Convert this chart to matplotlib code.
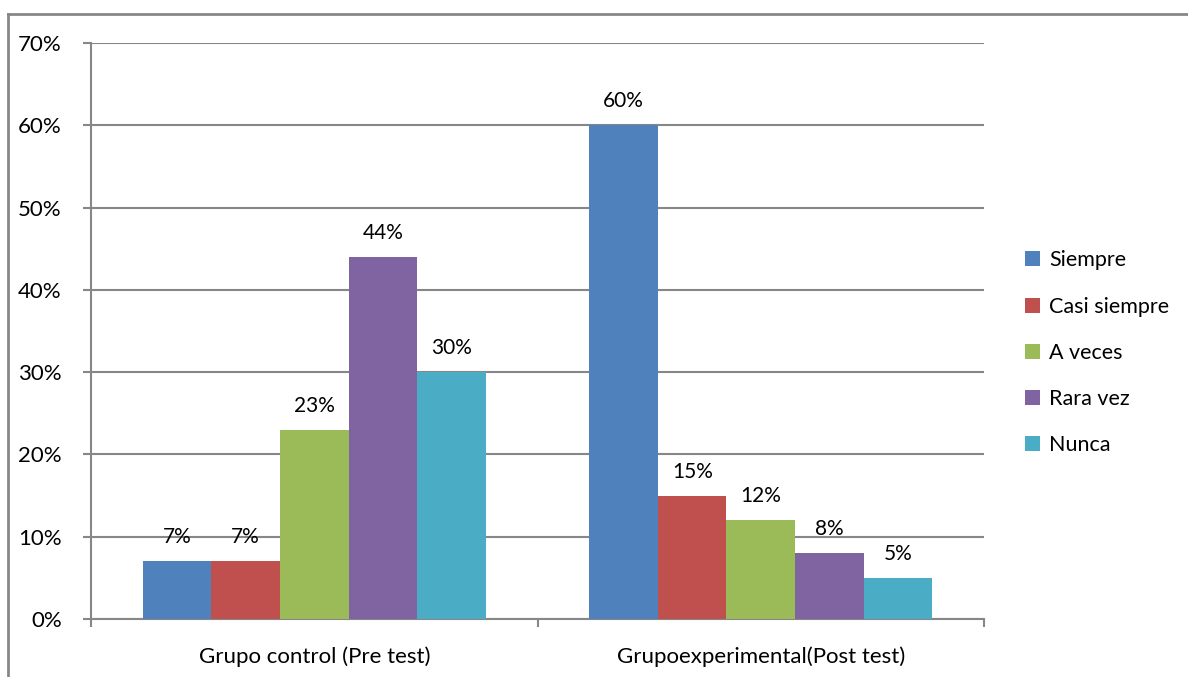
import numpy as np
import matplotlib.pyplot as plt
from matplotlib.lines import Line2D
from matplotlib.ticker import PercentFormatter

plt.rcParams['font.family'] = ['Lato', 'DejaVu Sans']

# survey answers per group, in percent
grupos = ["Grupo control (Pre test)", "Grupoexperimental(Post test)"]
respuestas = ["Siempre", "Casi siempre", "A veces", "Rara vez", "Nunca"]
control = [7, 7, 23, 44, 30]
experimental = [60, 15, 12, 8, 5]
colores = ["#4F81BD", "#C0504D", "#9BBB59", "#8064A2", "#4BACC6"]

fig = plt.figure(figsize=(11.88, 6.77), dpi=100)
ax = fig.add_axes([0.0766, 0.0857, 0.7517, 0.8508])

gris = "#878787"
ancho = 0.1535
x = np.arange(len(grupos))
valores = np.array([control, experimental])

for i, resp in enumerate(respuestas):
    pos = x + (i - 2) * ancho
    ax.bar(pos, valores[:, i], width=ancho, color=colores[i], label=resp, zorder=3)
    for xi, v in zip(pos, valores[:, i]):
        ax.annotate(f"{v}%", (xi, v), xytext=(0, 10), textcoords="offset points",
                    ha="center", va="bottom", fontsize=15, color="black")

ax.set_xlim(-0.5, 1.5)
ax.set_ylim(0, 70)
ax.set_yticks(np.arange(0, 71, 10))
ax.yaxis.set_major_formatter(PercentFormatter(decimals=0))
ax.grid(axis="y", color=gris, linewidth=1.5, zorder=0)

# category boundaries get tick marks, names sit between them
ax.set_xticks([-0.5, 0.5, 1.5])
ax.set_xticklabels([])
ax.set_xticks(x, minor=True)
ax.set_xticklabels(grupos, minor=True, fontsize=16)
ax.tick_params(axis="x", which="minor", length=0, pad=20)
ax.tick_params(axis="x", which="major", length=6, width=1.5, color=gris, direction="out")
ax.tick_params(axis="y", length=6, width=1.5, color=gris, pad=15, labelsize=16)

for s in ["top", "right"]:
    ax.spines[s].set_visible(False)
for s in ["left", "bottom"]:
    ax.spines[s].set_color(gris)
    ax.spines[s].set_linewidth(1.5)

ax.legend(loc="center left", bbox_to_anchor=(1.0335, 0.462), frameon=False,
          fontsize=15.5, handlelength=0.7, handleheight=0.7, borderpad=0,
          handletextpad=0.45, labelspacing=1.22)

# outer chart frame
fig.add_artist(Line2D([8 / 1188, 1], [1 - 14 / 677] * 2, color=gris, linewidth=2))
fig.add_artist(Line2D([8 / 1188] * 2, [0, 1 - 14 / 677], color=gris, linewidth=2))

fig.savefig("out.png", dpi=100)
